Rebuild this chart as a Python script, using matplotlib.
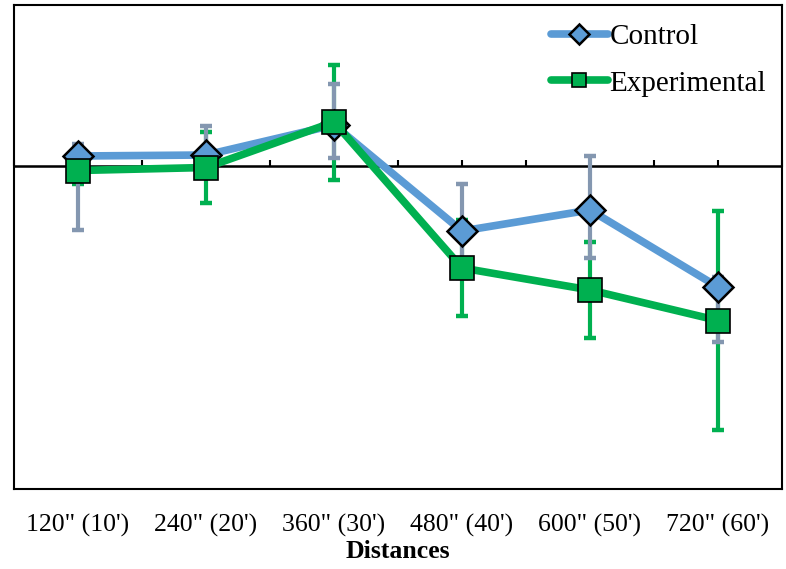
import matplotlib
matplotlib.use("Agg")
import matplotlib.pyplot as plt
import numpy as np

categories = ['120" (10\')', '240" (20\')', '360" (30\')', '480" (40\')', '600" (50\')', '720" (60\')']
control = [0.10, 0.11, 0.41, -0.65, -0.44, -1.21]
control_err_low = [0.74, 0.20, 0.33, 0.47, 0.48, 0.55]
control_err_high = [0.12, 0.29, 0.41, 0.47, 0.54, 0.10]
experimental = [-0.045, -0.015, 0.44, -1.02, -1.24, -1.545]
exp_err_low = [0.13, 0.355, 0.575, 0.48, 0.48, 1.095]
exp_err_high = [0.10, 0.355, 0.575, 0.48, 0.48, 1.095]

BLUE = "#5B9BD5"
GREEN = "#00B050"
GREY = "#8497B0"

plt.rcParams['font.family'] = ['Liberation Serif', 'DejaVu Serif']

fig = plt.figure(figsize=(7.86, 5.69), dpi=100)
ax = fig.add_axes([14/786, 1-489/569, (782-14)/786, (489-5)/569])

x = np.arange(len(categories))
ylim = (-3.23, 1.61)
ax.set_xlim(-0.5, len(categories) - 0.5)
ax.set_ylim(*ylim)

ax.axhline(0, color='black', lw=1.8, zorder=1)

ax.errorbar(x, experimental, yerr=[exp_err_low, exp_err_high], fmt='none',
            ecolor=GREEN, elinewidth=3, capsize=4.5, capthick=3.2, zorder=2)
ax.errorbar(x, control, yerr=[control_err_low, control_err_high], fmt='none',
            ecolor=GREY, elinewidth=3, capsize=4.5, capthick=3.2, zorder=2.5)

l1, = ax.plot(x, control, color=BLUE, lw=5.5, marker='D', ms=15,
              mfc=BLUE, mec='black', mew=1.8, zorder=3, label='Control',
              solid_capstyle='round')
l2, = ax.plot(x, experimental, color=GREEN, lw=5.5, marker='s', ms=17,
              mfc=GREEN, mec='black', mew=1.2, zorder=4, label='Experimental',
              solid_capstyle='round')

ax.set_xticks(x)
ax.set_xticklabels(categories, fontsize=18.5)
ax.tick_params(axis='x', length=0, pad=18)
ax.set_yticks([])
for s in ax.spines.values():
    s.set_linewidth(1.5)
ax.set_xlabel('Distances', fontsize=18.5, fontweight='bold', labelpad=2)

zero_frac = (0 - ylim[0]) / (ylim[1] - ylim[0])
sec = ax.secondary_xaxis(zero_frac)
sec.set_xticks(np.arange(-0.5, len(categories) - 0.4, 0.5))
sec.set_xticklabels([])
sec.tick_params(axis='x', direction='out', length=4, width=1.5, color='black')
sec.spines['bottom'].set_linewidth(1.8)
sec.set_zorder(1)

leg = ax.legend(handles=[l1, l2], loc='upper left', bbox_to_anchor=(551/786, 1-24/569),
                bbox_transform=fig.transFigure, frameon=False, fontsize=21,
                handlelength=1.95, handletextpad=0.05, borderpad=0, borderaxespad=0,
                labelspacing=0.68)
for h in leg.legend_handles:
    h.set_markersize(10)

fig.savefig('out.png', dpi=100)
